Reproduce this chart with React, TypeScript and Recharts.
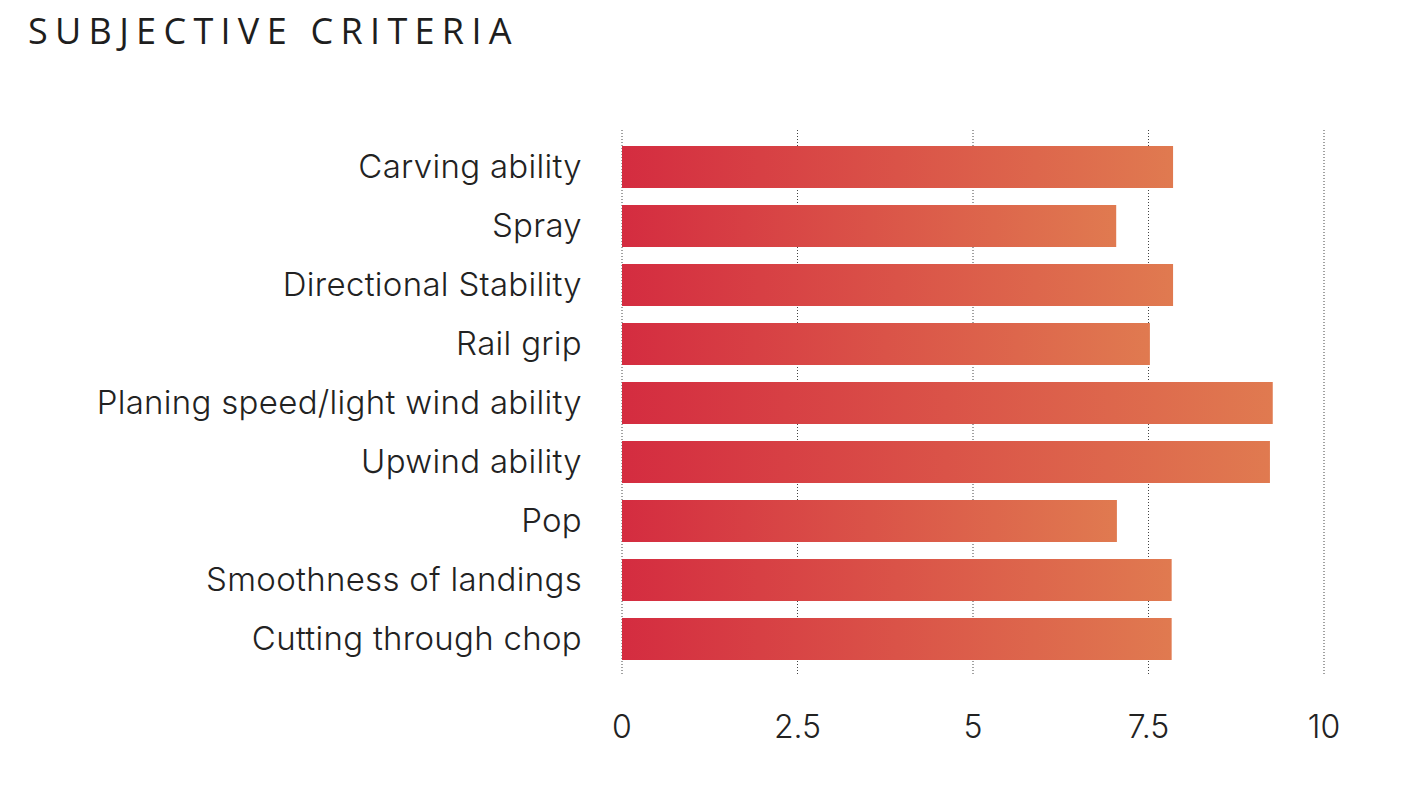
import { BarChart, Bar, XAxis, YAxis, CartesianGrid } from "recharts"

const CATEGORIES = [
    "Carving ability",
    "Spray",
    "Directional Stability",
    "Rail grip",
    "Planing speed/light wind ability",
    "Upwind ability",
    "Pop",
    "Smoothness of landings",
    "Cutting through chop",
]
const SCORES = [7.85, 7.04, 7.85, 7.52, 9.27, 9.23, 7.05, 7.83, 7.83]
const X_TICKS = [0, 2.5, 5, 7.5, 10]

const data = CATEGORIES.map((name, i) => ({ name, score: SCORES[i] }))

const FONT = "Inter, 'Noto Sans', sans-serif"

export default function App() {
    return (
        <div style={{ position: "relative", width: 1412, height: 776, background: "#fff" }}>
            <div
                style={{
                    position: "absolute",
                    left: 20,
                    top: 5,
                    fontFamily: "'Open Sans', sans-serif",
                    fontSize: 36,
                    lineHeight: "36px",
                    letterSpacing: 7.3,
                    color: "#1e1e1e",
                    whiteSpace: "nowrap",
                }}
            >
                SUBJECTIVE CRITERIA
            </div>
            <BarChart
                width={1412}
                height={776}
                data={data}
                layout="vertical"
                margin={{ top: 122, right: 96, left: 0, bottom: 0 }}
            >
                <defs>
                    <linearGradient id="barFill" x1="0" y1="0" x2="1" y2="0">
                        <stop offset="0%" stopColor="#d42c40" />
                        <stop offset="100%" stopColor="#e07a50" />
                    </linearGradient>
                </defs>
                <CartesianGrid
                    vertical={true}
                    horizontal={false}
                    stroke="#444"
                    strokeDasharray="1 2"
                />
                <XAxis
                    type="number"
                    domain={[0, 10]}
                    ticks={X_TICKS}
                    height={109}
                    axisLine={false}
                    tickLine={false}
                    tickSize={0}
                    tickMargin={40}
                    tick={{ fontSize: 32, fontFamily: FONT, fontWeight: 300, fill: "#222" }}
                />
                <YAxis
                    type="category"
                    dataKey="name"
                    width={614}
                    padding={{ top: 7, bottom: 7 }}
                    axisLine={false}
                    tickLine={false}
                    tickSize={0}
                    tickMargin={40}
                    interval={0}
                    tick={{ fontSize: 33, fontFamily: FONT, fontWeight: 300, fill: "#222", letterSpacing: 0.3 }}
                />
                <Bar dataKey="score" fill="url(#barFill)" barSize={42} isAnimationActive={false} />
            </BarChart>
        </div>
    )
}
